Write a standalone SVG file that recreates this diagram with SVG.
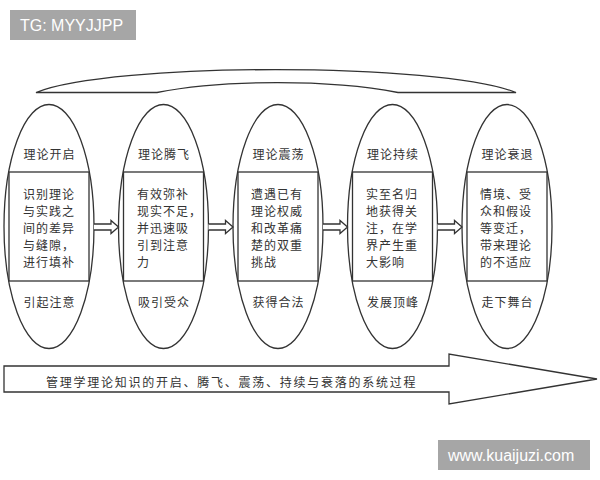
<svg xmlns="http://www.w3.org/2000/svg" width="600" height="480" viewBox="0 0 600 480">
<style>
.ln{fill:#fff;stroke:#333;stroke-width:1.3}
.t{font-family:"Noto Sans CJK SC","Noto Sans",sans-serif;font-size:12px;fill:#333;letter-spacing:1px;dominant-baseline:central}
.c{text-anchor:middle}
.wm{fill:#a6a6a6}
.wt{font-family:"Liberation Sans",Arial,sans-serif;font-size:16px;fill:#fff;dominant-baseline:central}
</style>
<rect width="600" height="480" fill="#fff"/>
<g id="watermark-top"><rect class="wm" x="10" y="10" width="126" height="30"/><text class="wt" x="20" y="25">TG: MYYJJPP</text></g>
<g id="top-arc"><path class="ln" d="M36,92.5 C110,62 440,62 516,92.5 L398,92.5 C330,79.4 225,79.4 157,92.5 Z"/></g>
<g id="n1">
<ellipse class="ln" cx="49" cy="226.5" rx="45" ry="122"/>
<rect class="ln" x="9" y="172" width="80" height="109"/>
<text class="t c" x="49.5" y="153">理论开启</text>
<text class="t" x="23"><tspan x="23" y="192.5">识别理论</tspan><tspan x="23" y="209.7">与实践之</tspan><tspan x="23" y="226.9">间的差异</tspan><tspan x="23" y="244.1">与缝隙，</tspan><tspan x="23" y="261.3">进行填补</tspan></text>
<text class="t c" x="49.5" y="301.5">引起注意</text>
</g>
<g id="n2">
<ellipse class="ln" cx="163.5" cy="226.5" rx="45" ry="122"/>
<rect class="ln" x="123.5" y="172" width="80" height="109"/>
<text class="t c" x="164" y="153">理论腾飞</text>
<text class="t"><tspan x="137" y="192.5">有效弥补</tspan><tspan x="137" y="209.7">现实不足，</tspan><tspan x="137" y="226.9">并迅速吸</tspan><tspan x="137" y="244.1">引到注意</tspan><tspan x="137" y="261.3">力</tspan></text>
<text class="t c" x="164" y="301.5">吸引受众</text>
</g>
<g id="n3">
<ellipse class="ln" cx="278" cy="226.5" rx="45" ry="122"/>
<rect class="ln" x="238" y="172" width="80" height="109"/>
<text class="t c" x="278.5" y="153">理论震荡</text>
<text class="t"><tspan x="251" y="192.5">遭遇已有</tspan><tspan x="251" y="209.7">理论权威</tspan><tspan x="251" y="226.9">和改革痛</tspan><tspan x="251" y="244.1">楚的双重</tspan><tspan x="251" y="261.3">挑战</tspan></text>
<text class="t c" x="278.5" y="301.5">获得合法</text>
</g>
<g id="n4">
<ellipse class="ln" cx="392.5" cy="226.5" rx="45" ry="122"/>
<rect class="ln" x="352.5" y="172" width="80" height="109"/>
<text class="t c" x="393" y="153">理论持续</text>
<text class="t"><tspan x="366" y="192.5">实至名归</tspan><tspan x="366" y="209.7">地获得关</tspan><tspan x="366" y="226.9">注，在学</tspan><tspan x="366" y="244.1">界产生重</tspan><tspan x="366" y="261.3">大影响</tspan></text>
<text class="t c" x="393" y="301.5">发展顶峰</text>
</g>
<g id="n5">
<ellipse class="ln" cx="507" cy="226.5" rx="45" ry="122"/>
<rect class="ln" x="467" y="172" width="80" height="109"/>
<text class="t c" x="507.5" y="153">理论衰退</text>
<text class="t"><tspan x="480" y="192.5">情境、受</tspan><tspan x="480" y="209.7">众和假设</tspan><tspan x="480" y="226.9">等变迁，</tspan><tspan x="480" y="244.1">带来理论</tspan><tspan x="480" y="261.3">的不适应</tspan></text>
<text class="t c" x="507.5" y="301.5">走下舞台</text>
</g>
<g id="connectors">
<path class="ln" d="M94,224 H111 V220.5 L118.5,227 L111,233.5 V230 H94"/>
<path class="ln" d="M208.5,224 H225.5 V220.5 L233,227 L225.5,233.5 V230 H208.5"/>
<path class="ln" d="M323,224 H340 V220.5 L347.5,227 L340,233.5 V230 H323"/>
<path class="ln" d="M437.5,224 H454.5 V220.5 L462,227 L454.5,233.5 V230 H437.5"/>
</g>
<g id="process-arrow">
<path class="ln" d="M4,366 H449 V354 L597,379 L449,404 V392 H4 Z"/>
<text class="t" x="46" y="381.5" style="letter-spacing:1.75px">管理学理论知识的开启、腾飞、震荡、持续与衰落的系统过程</text>
</g>
<g id="watermark-bottom"><rect class="wm" x="438" y="440" width="152" height="30"/><text class="wt" x="448" y="455">www.kuaijuzi.com</text></g>
</svg>
